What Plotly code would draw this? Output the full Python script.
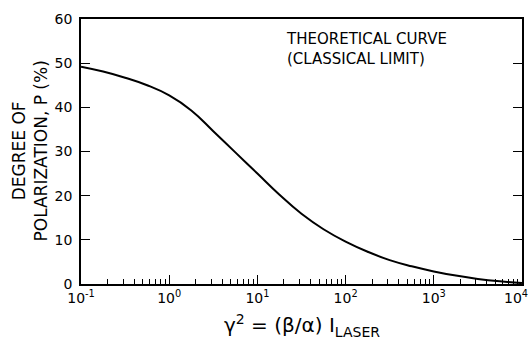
import plotly.graph_objects as go

# Curve at quarter-decade steps (x: gamma^2, y: P in %)
gamma2 = [0.1, 0.178, 0.316, 0.562, 1, 1.78, 3.16, 5.62, 10, 17.8, 31.6, 56.2,
          100, 178, 316, 562, 1000, 1780, 3160, 5620, 10000]
pol = [49.2, 48.1, 46.7, 45.0, 42.7, 39.3, 34.6, 29.8, 25.0, 20.2, 15.9, 12.4,
       9.6, 7.3, 5.4, 4.0, 2.85, 1.9, 1.15, 0.6, 0.2]

x_major = [0.1, 1, 10, 100, 1000, 10000]
x_major_text = ["10<sup>-1</sup>", "10<sup>0</sup>", "10<sup>1</sup>", "10<sup>2</sup>",
                "10<sup>3</sup>", ""]
x_last_label = "10<sup>4</sup>"
x_minor = [m * d for d in [0.1, 1, 10, 100, 1000] for m in range(2, 10)]
y_ticks = [0, 10, 20, 30, 40, 50, 60]

FONT = "DejaVu Sans"

fig = go.Figure()
fig.add_trace(go.Scatter(x=gamma2, y=pol, mode="lines",
                         line=dict(color="black", width=2, shape="spline", smoothing=1.3),
                         showlegend=False, hoverinfo="skip"))

fig.update_layout(
    width=529, height=339,
    margin=dict(l=81, r=7, t=19, b=55),
    paper_bgcolor="white", plot_bgcolor="white",
    font=dict(family=FONT, color="black", size=14),
    xaxis=dict(type="log", range=[-1.0004, 4.0004], tickvals=x_major, ticktext=x_major_text,
               ticks="inside", ticklen=9, tickwidth=1.2, tickcolor="black",
               minor=dict(tickvals=x_minor, ticks="inside", ticklen=5, tickwidth=1, tickcolor="black"),
               showline=True, linecolor="black", linewidth=1.5, mirror=True,
               showgrid=False, zeroline=False, tickfont=dict(size=14, family=FONT),
               automargin=False),
    yaxis=dict(range=[0, 60], tickvals=y_ticks,
               ticks="inside", ticklen=9, tickwidth=1.2, tickcolor="black",
               showline=True, linecolor="black", linewidth=1.5, mirror="allticks",
               showgrid=False, zeroline=False, tickfont=dict(size=14, family=FONT),
               ticklabelstandoff=4, automargin=False),
    annotations=[
        dict(text=x_last_label, xref="x", yref="paper", x=4, y=0,
             xanchor="right", yanchor="top", xshift=8, yshift=-2,
             showarrow=False, font=dict(size=14, family=FONT)),
        dict(text="DEGREE OF<br>POLARIZATION, P (%)", xref="paper", yref="paper",
             x=0, y=0.5, xanchor="center", yanchor="middle", xshift=-52,
             textangle=-90, showarrow=False, font=dict(size=17, family=FONT)),
        dict(text="γ<sup>2</sup> = (β/α) I<sub>LASER</sub>", xref="paper", yref="paper",
             x=0.5, y=0, xanchor="center", yanchor="middle", yshift=-41,
             showarrow=False, font=dict(size=20, family=FONT)),
        dict(text="THEORETICAL CURVE<br>(CLASSICAL LIMIT)", xref="paper", yref="paper",
             x=(284 - 81) / 441, y=(284 - 28) / 265, xanchor="left", yanchor="top",
             align="left", showarrow=False, font=dict(size=15, family=FONT)),
    ],
)

fig.write_html("out.html")
